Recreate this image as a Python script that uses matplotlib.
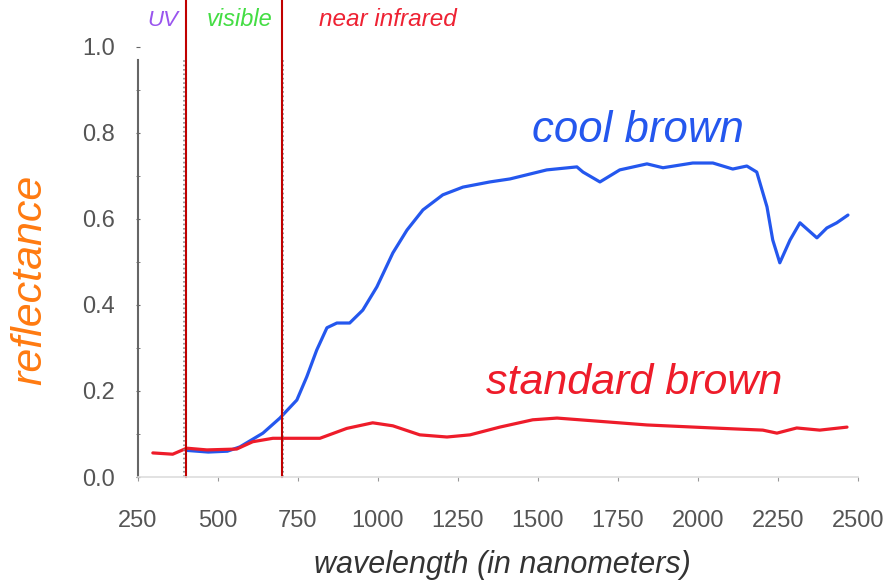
import numpy as np
import matplotlib
matplotlib.use("Agg")
import matplotlib.pyplot as plt

plt.rcParams['font.family'] = ['Liberation Sans', 'DejaVu Sans']

# cool brown reflectance
cool_wl = [400, 470, 530, 569, 641, 694, 747, 778, 809, 841, 872, 912, 953, 997,
           1047, 1091, 1141, 1203, 1266, 1350, 1413, 1528, 1622, 1641, 1694, 1756,
           1841, 1891, 1984, 2047, 2109, 2153, 2184, 2216, 2234, 2256, 2288, 2319,
           2372, 2403, 2434, 2469]
cool_r = [0.062, 0.058, 0.060, 0.070, 0.102, 0.137, 0.179, 0.233, 0.295, 0.347, 0.358,
          0.358, 0.388, 0.442, 0.521, 0.574, 0.621, 0.656, 0.674, 0.686, 0.693, 0.714,
          0.721, 0.709, 0.686, 0.714, 0.728, 0.719, 0.730, 0.730, 0.716, 0.723, 0.709,
          0.628, 0.551, 0.498, 0.551, 0.591, 0.556, 0.579, 0.591, 0.609]

# standard brown reflectance
std_wl = [297, 359, 403, 466, 559, 609, 672, 819, 903, 984, 1047, 1131, 1216, 1288,
          1381, 1484, 1560, 1631, 1841, 2047, 2203, 2247, 2309, 2381, 2466]
std_r = [0.056, 0.053, 0.067, 0.063, 0.065, 0.082, 0.090, 0.090, 0.113, 0.126, 0.119,
         0.098, 0.093, 0.098, 0.116, 0.133, 0.137, 0.133, 0.121, 0.114, 0.109, 0.102,
         0.114, 0.109, 0.116]

band_edges = [400, 700]
xticks = [250, 500, 750, 1000, 1250, 1500, 1750, 2000, 2250, 2500]
yticks = [0.0, 0.2, 0.4, 0.6, 0.8, 1.0]

fig = plt.figure(figsize=(8.89, 5.86), dpi=100)
ax = fig.add_axes([0.155, 0.186, 0.81, 0.734])

ax.plot(cool_wl, cool_r, color='#2457ee', lw=2.3, solid_capstyle='round', solid_joinstyle='round')
ax.plot(std_wl, std_r, color='#ee1c2a', lw=2.3, solid_capstyle='round', solid_joinstyle='round')

# band borders
for b, off in zip(band_edges, [-5, 5]):
    ax.plot([b + off, b + off], [0, 0.97], color='#888888', lw=1.2, ls=':')
    ax.plot([b, b], [0, 1.109], color='#c00000', lw=1.5, clip_on=False)

ax.set_xlim(250, 2500)
ax.set_ylim(0, 1.0)
ax.set_xticks(xticks)
ax.set_yticks(yticks)
ax.set_yticklabels(['%.1f' % v for v in yticks])
ax.set_yticks(np.arange(0.1, 1.0, 0.2), minor=True)

for s in ['top', 'right']:
    ax.spines[s].set_visible(False)
ax.spines['left'].set_bounds(0, 0.97)
ax.spines['left'].set_color('#666666')
ax.spines['left'].set_linewidth(1.5)
ax.spines['bottom'].set_color('#dddddd')
ax.spines['bottom'].set_linewidth(1.2)

ax.tick_params(axis='x', length=3, color='#999999', labelsize=17, labelcolor='#555555', pad=21)
ax.tick_params(axis='y', which='both', length=3, color='#666666', labelsize=17,
               labelcolor='#555555', pad=15, direction='inout')

ax.text(1812, 0.805, 'cool brown', color='#2457ee', fontsize=31.5, style='italic', ha='center', va='center')
ax.text(1800, 0.218, 'standard brown', color='#ee1c2a', fontsize=31, style='italic', ha='center', va='center')

fig.text(163 / 889, 1 - 20 / 586, 'UV', color='#9955ee', fontsize=16, style='italic', ha='center', va='center')
fig.text(240 / 889, 1 - 20 / 586, 'visible', color='#44dd44', fontsize=17, style='italic', ha='center', va='center')
fig.text(388 / 889, 1 - 20 / 586, 'near infrared', color='#ee2233', fontsize=17.5, style='italic', ha='center', va='center')

fig.text(30 / 889, 1 - 280 / 586, 'reflectance', color='#ff7a10', fontsize=31, style='italic',
         rotation=90, ha='center', va='center')
fig.text(502 / 889, 1 - 565 / 586, 'wavelength (in nanometers)', color='#333333', fontsize=22,
         style='italic', ha='center', va='center')

fig.savefig('out.png', dpi=100)
